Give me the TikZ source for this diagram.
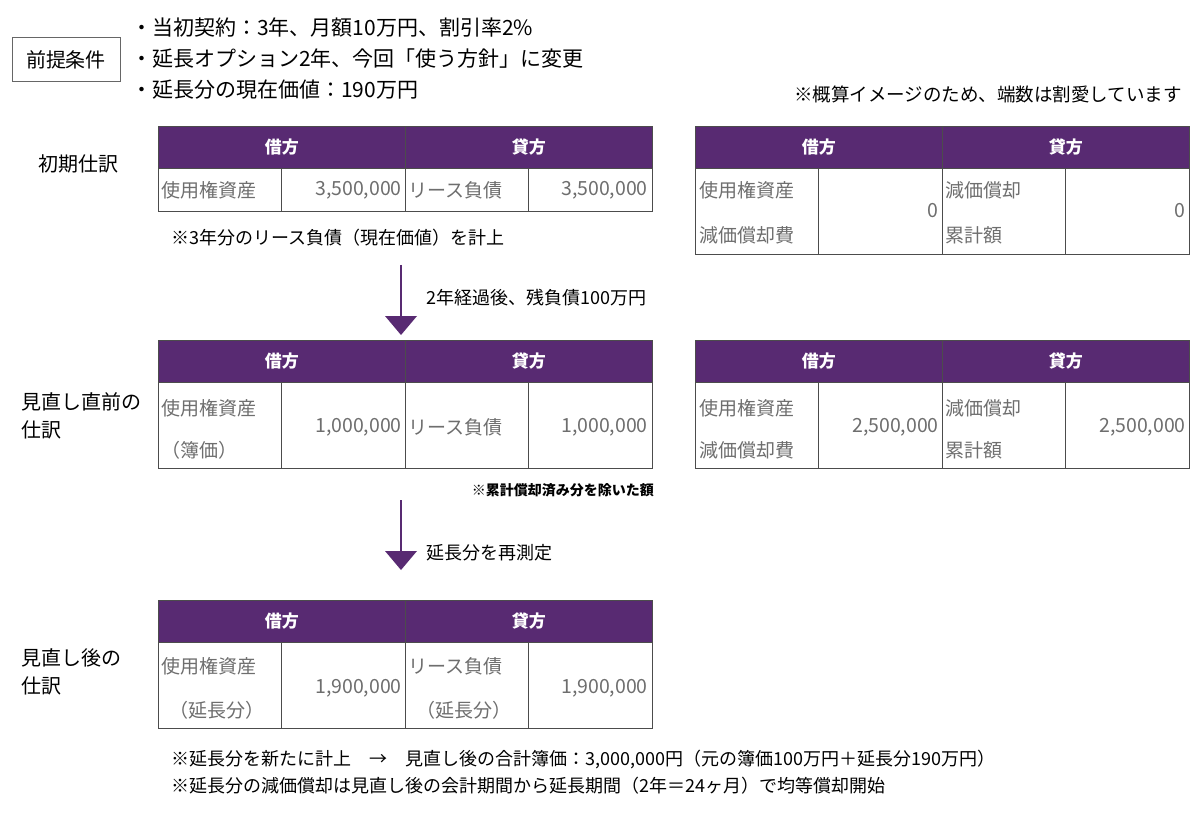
\documentclass[tikz,border=0pt]{standalone}
\usepackage{fontspec}
\setmainfont{Noto Sans CJK JP}
\definecolor{hdr}{HTML}{582A72}
\definecolor{cell}{HTML}{6E6E6E}
\tikzset{
  hd/.style={fill=hdr,draw=black!70,line width=0.8pt,text=white,font=\fontsize{17}{17}\selectfont\bfseries},
  bd/.style={draw=black!70,line width=0.8pt},
  lb/.style={text=cell,font=\fontsize{19}{19}\selectfont,anchor=west,inner sep=1pt},
  vl/.style={text=cell,font=\fontsize{19.5}{19.5}\selectfont,anchor=east,inner sep=1pt},
  tx/.style={font=\fontsize{20}{20}\selectfont,anchor=west,inner sep=1pt},
  bl/.style={font=\fontsize{21}{21}\selectfont,anchor=west,inner sep=1pt},
  sm/.style={font=\fontsize{18}{18}\selectfont,anchor=west,inner sep=1pt},
  arr/.style={draw=hdr,line width=2.5pt},
  arrhead/.style={fill=hdr,draw=none},
}
\newcommand\ledgerbox[4]{%
  \node[hd,minimum width=247,minimum height=42,anchor=north west,inner sep=0] (#1dh) at (#2,#3) {借方};
  \node[hd,minimum width=247,minimum height=42,anchor=north west,inner sep=0] (#1ch) at (#2+247,#3) {貸方};
  \draw[bd] (#2,#3+42) rectangle (#2+494,#4);
  \foreach \c in {123,247,370} \draw[bd] (#2+\c,#3+42) -- (#2+\c,#4);
}
\begin{document}
\begin{tikzpicture}[x=1pt,y=-1pt]
\useasboundingbox[fill=white] (0,0) rectangle (1200,813);
\node[draw=black!60,line width=1pt,minimum width=108,minimum height=44,font=\fontsize{20}{20}\selectfont] (cond) at (66,60) {前提条件};
\node[bl] (c1) at (130,28) {・当初契約：3年、月額10万円、割引率2\%};
\node[bl] (c2) at (130,59) {・延長オプション2年、今回「使う方針」に変更};
\node[bl] (c3) at (130,90) {・延長分の現在価値：190万円};
\node[font=\fontsize{18.5}{18.5}\selectfont,anchor=east,inner sep=1pt] (note0) at (1183,94) {※概算イメージのため、端数は割愛しています};
\node[tx,anchor=center] (r1) at (78,164) {初期仕訳};
\node[tx] (r2a) at (20,402) {見直し直前の};
\node[tx] (r2b) at (20,430) {仕訳};
\node[tx] (r3a) at (20,658) {見直し後の};
\node[tx] (r3b) at (20,686) {仕訳};
\ledgerbox{a}{158}{126}{211}
\node[lb] (a1) at (160,190) {使用権資産};
\node[vl] (a2) at (649,190) {3,500,000};
\node[lb] (a3) at (407,190) {リース負債};
\node[vl] (a4) at (403,190) {3,500,000};
\node[sm] (n1) at (170,238) {※3年分のリース負債（現在価値）を計上};
\ledgerbox{b}{695}{126}{254}
\node[lb] (b1) at (698,190) {使用権資産};
\node[lb] (b2) at (698,235) {減価償却費};
\node[vl] (b3) at (940,211) {0};
\node[lb] (b4) at (944,190) {減価償却};
\node[lb] (b5) at (944,235) {累計額};
\node[vl] (b6) at (1187,211) {0};
\coordinate (s1) at (401,265);
\coordinate (e1) at (401,318);
\draw[arr] (s1) -- (e1);
\fill[arrhead] (385,316) -- (417,316) -- (401,335) -- cycle;
\node[sm] (l1) at (425,298) {2年経過後、残負債100万円};
\ledgerbox{c}{158}{340}{468}
\node[lb] (c1a) at (160,408) {使用権資産};
\node[lb] (c1b) at (160,450) {（簿価）};
\node[vl] (c2v) at (403,427) {1,000,000};
\node[lb] (c3a) at (407,427) {リース負債};
\node[vl] (c4) at (649,427) {1,000,000};
\ledgerbox{d}{695}{340}{468}
\node[lb] (d1) at (698,408) {使用権資産};
\node[lb] (d2) at (698,450) {減価償却費};
\node[vl] (d3) at (940,427) {2,500,000};
\node[lb] (d4) at (944,408) {減価償却};
\node[lb] (d5) at (944,450) {累計額};
\node[vl] (d6) at (1187,427) {2,500,000};
\node[font=\fontsize{14}{14}\selectfont\bfseries,anchor=east,inner sep=1pt] (n2) at (655,490) {※累計償却済み分を除いた額};
\coordinate (s2) at (401,500);
\coordinate (e2) at (401,553);
\draw[arr] (s2) -- (e2);
\fill[arrhead] (385,551) -- (417,551) -- (401,570) -- cycle;
\node[sm] (l2) at (425,553) {延長分を再測定};
\ledgerbox{e}{158}{600}{728}
\node[lb] (e1a) at (160,666) {使用権資産};
\node[lb] (e1b) at (168,710) {（延長分）};
\node[vl] (e2v) at (403,688) {1,900,000};
\node[lb] (e3a) at (407,666) {リース負債};
\node[lb] (e3b) at (415,710) {（延長分）};
\node[vl] (e4) at (649,688) {1,900,000};
\node[sm] (n3) at (170,760) {※延長分を新たに計上\quad →\quad 見直し後の合計簿価：3,000,000円（元の簿価100万円＋延長分190万円）};
\node[sm] (n4) at (170,786) {※延長分の減価償却は見直し後の会計期間から延長期間（2年＝24ヶ月）で均等償却開始};
\end{tikzpicture}
\end{document}
